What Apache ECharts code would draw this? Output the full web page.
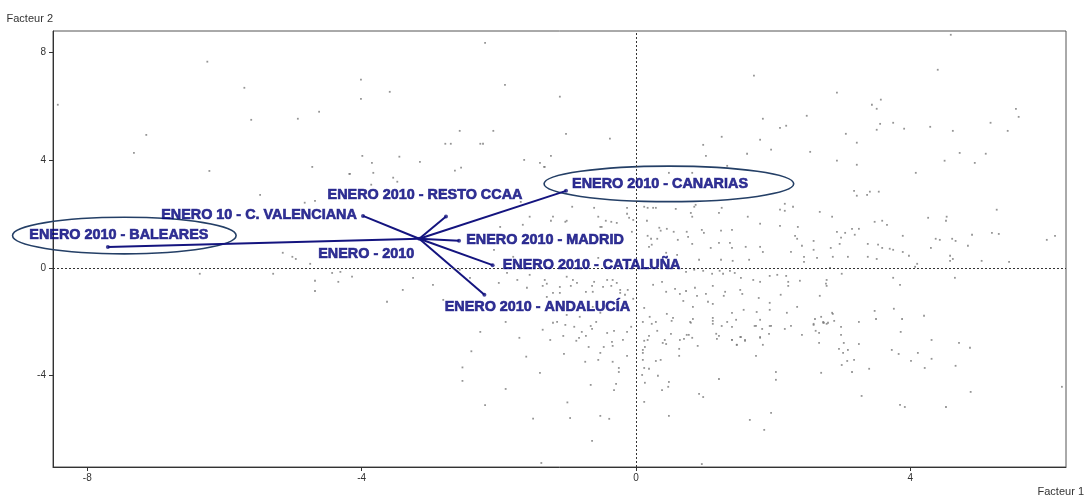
<!DOCTYPE html>
<html>
<head>
<meta charset="utf-8">
<script src="https://cdn.jsdelivr.net/npm/echarts@6/dist/echarts.min.js"></script>
<style>
  html, body { margin: 0; padding: 0; background: #fff; }
  #chart { width: 1084px; height: 495px; }
</style>
</head>
<body>
<div id="chart"></div>
<script>
// cloud of individuals on the factorial plane (Facteur 1, Facteur 2)
var individuals = [
  [-6.25,7.66],[-5.71,6.69],[-8.43,6.06],[-5.61,5.5],[-4.93,5.54],[-4.62,5.8],[-7.14,4.94],[-7.32,4.27],
  [-6.22,3.6],[-4.72,3.75],[-4.18,3.49],[-5.48,2.71],[-4.83,2.42],[-4.68,2.49],[-5.15,0.56],[-5.01,0.41],
  [-4.96,0.33],[-4.75,0.15],[-6.36,-0.22],[-5.29,-0.22],[-4.68,-0.48],[-4.68,-0.86],[-4.43,-0.19],[-4.31,-0.15],
  [-4.14,-0.33],[-4.34,-0.52],
  [-2.2,8.36],[-4.01,6.99],[-3.59,6.54],[-4.01,6.28],[-1.91,6.8],[-1.11,6.36],[-2.57,5.09],[-2.08,5.09],
  [-1.02,4.98],[-0.38,4.8],[-2.78,4.61],[-2.7,4.61],[-2.27,4.61],[-2.23,4.61],[-3.99,4.16],[-3.45,4.13],
  [-3.15,3.94],[-1.63,4.01],[-1.24,4.16],[-1.34,3.75],[-2.55,3.72],[-2.64,3.61],[-3.83,3.53],[-4.17,3.49],
  [-3.54,3.35],[-3.48,3.2],[-3.86,3.09],[1.25,4.87],[0.98,4.57],[1.02,4.16],[0.48,3.53],[0.82,3.53],[1.33,3.79],
  [4.59,8.66],[4.4,7.36],[1.72,7.14],[2.93,6.51],[3.57,6.25],[3.44,6.06],[3.51,5.91],[5.54,5.91],[5.58,5.61],
  [1.85,5.54],[2.49,5.65],[2.1,5.2],[2.19,5.28],[3.56,5.35],[3.75,5.39],[3.91,5.17],[4.29,5.24],[4.62,5.09],
  [5.17,5.39],[5.42,5.09],[3.51,5.13],[3.06,4.98],[3.22,4.65],[1.81,4.76],[1.97,4.39],[1.62,4.24],[2.54,4.31],
  [4.72,4.27],[5.1,4.24],
  [2.93,3.98],[3.22,3.83],[4.5,3.98],[4.94,3.9],[4.08,3.53],[3.18,2.86],[3.22,2.68],[3.37,2.71],[3.41,2.83],
  [3.54,2.83],[5.26,2.16],[2.68,2.08],[2.86,1.9],[4.26,1.86],[4.53,1.9],[4.52,1.75],[3.48,1.71],[3.59,1.75],
  [3.66,1.6],[3.15,1.45],[3.25,1.45],[2.93,1.34],[3.05,1.3],[3.19,1.23],[3.89,1.19],[2.99,1.12],[4.37,1.08],
  [4.43,1.04],[4.61,1.08],[4.66,1.0],[4.9,1.23],[5.19,1.3],[5.29,1.26],[5.99,1.04],[6.11,1.19],[2.59,1.0],
  [2.42,0.82],[2.59,0.67],[2.84,0.74],[2.97,0.89],[3.38,0.89],[3.53,0.86],[3.59,0.74],[3.7,0.71],[3.75,0.67],
  [3.89,0.59],[4.3,0.74],[4.84,0.82],[2.45,0.41],[2.64,0.37],[2.87,0.41],[3.09,0.41],[3.38,0.41],[3.51,0.33],
  [3.98,0.45],[4.58,0.45],[4.58,0.26],[4.62,0.33],[5.04,0.26],[5.44,0.22],[2.45,0.22],[4.1,0.15],[4.07,0.04],
  [2.83,0.0],[3.0,-0.22],[2.78,-0.45],[2.77,-0.59],[2.78,-0.67],[3.75,-0.37],[3.85,-0.63],[4.65,-0.37],
  [2.68,-1.04],[3.48,-1.6],[3.76,-1.52],[4.2,-1.78],[2.7,-1.82],[2.86,-1.67],[2.87,-1.71],[2.61,-1.9],
  [2.73,-2.01],[2.74,-2.04],[2.8,-2.04],[2.89,-1.97],[3.25,-2.01],[3.5,-1.9],[3.88,-1.9],[2.59,-2.08],
  [1.25,-2.16],[1.4,-2.19],[1.75,-2.16],[1.84,-2.27],[1.97,-2.16],[1.94,-2.45],[2.17,-2.27],[2.26,-2.16],
  [2.42,-2.49],[2.59,-2.12],[2.62,-2.34],[2.67,-2.42],[2.73,-2.04],[2.78,-2.08],[2.99,-2.19],[2.99,-2.49],
  [1.4,-2.68],[1.53,-2.57],[1.47,-2.86],[1.59,-2.71],[1.81,-2.6],[1.85,-2.86],[2.67,-2.79],[3.03,-2.79],
  [3.25,-2.83],[2.96,-3.01],[3.09,-3.05],[3.02,-3.16],[1.75,-3.27],[3.08,-3.46],[3.18,-3.42],[3.0,-3.61],
  [3.4,-3.75],[3.15,-3.87],[2.04,-3.87],[2.04,-4.16],[2.7,-3.9],[3.86,-2.38],[3.73,-3.05],[3.83,-3.2],
  [4.01,-3.46],[4.11,-3.16],[4.21,-3.72],[4.31,-2.68],[4.31,-3.38],[4.66,-3.64],[4.71,-2.79],[4.87,-2.97],
  [3.29,-4.76],[4.88,-4.61],[3.85,-5.09],[3.92,-5.17],[4.52,-5.17],[1.97,-5.39],[1.66,-5.65],[1.87,-6.02],
  [6.21,-4.42],
  [-1.03,-2.12],[-0.9,-2.19],[-0.66,-2.16],[-0.64,-2.27],[-0.58,-2.01],[-1.36,-2.3],[-1.25,-2.68],[-1.06,-2.53],
  [-0.87,-2.71],[-0.83,-2.6],[-0.79,-2.38],[-0.73,-2.53],[-0.69,-2.94],[-0.47,-2.94],[-0.42,-2.42],[-0.35,-2.75],
  [-0.34,-2.9],[-0.32,-2.34],[-0.19,-2.68],[-0.13,-2.38],[-0.07,-2.19],[-1.05,-3.2],[-0.52,-3.16],[-0.13,-3.27],
  [-0.74,-3.49],[-0.55,-3.42],[-0.34,-3.49],[-0.25,-3.72],[-0.25,-3.87],[-0.29,-4.31],[-0.66,-4.35],[-0.32,-4.54],
  [-0.96,-5.58],[-0.52,-5.5],[-0.39,-5.61],[-0.64,-6.43],[-1.38,-7.25],
  [0.1,-2.01],[0.29,-2.01],[0.23,-2.08],[0.52,-1.97],[0.79,-2.01],[0.8,-2.04],[1.12,-1.97],[1.12,-2.08],
  [1.33,-2.01],[1.73,-2.16],[1.95,-2.16],[0.12,-2.71],[0.13,-2.94],[0.19,-2.53],[0.17,-2.68],[0.31,-2.34],
  [0.39,-2.79],[0.44,-2.83],[0.42,-2.68],[0.51,-2.45],[0.64,-2.68],[0.7,-2.64],[0.74,-2.49],[0.77,-2.49],
  [0.82,-2.6],[0.63,-3.01],[0.9,-2.9],[1.17,-2.45],[1.18,-2.64],[1.21,-2.53],[1.4,-2.68],[1.47,-2.86],
  [1.52,-2.57],[1.59,-2.68],[1.81,-2.57],[0.1,-3.05],[0.1,-3.16],[0.1,-3.42],[0.29,-3.46],[0.36,-3.42],
  [0.63,-3.27],[0.12,-3.72],[0.19,-3.75],[0.09,-3.98],[0.32,-4.01],[0.13,-4.27],[0.48,-4.24],[0.47,-4.42],
  [0.38,-4.54],[1.21,-4.13],[0.92,-4.68],[0.98,-4.8],[0.12,-4.98],[0.48,-5.5],[0.96,-7.29],
  [-0.93,2.27],[-0.61,2.23],[-0.13,2.23],[-1.24,1.75],[-1.01,1.75],[-0.5,1.52],[-0.44,1.75],[-0.36,1.71],
  [-0.28,1.67],[-0.13,2.01],[-0.1,1.86],[-0.04,1.78],[-0.06,1.34],[-0.52,1.52],[0.12,2.27],[0.17,2.23],
  [0.25,2.23],[0.29,2.23],[0.58,2.19],[0.85,2.27],[0.87,2.34],[0.8,2.04],[0.82,1.9],[1.25,2.23],[1.21,2.04],
  [1.63,1.9],[2.1,2.16],[2.17,2.38],[2.17,2.12],[2.29,2.27],[1.81,1.64],[2.1,1.56],[2.36,1.52],[0.16,1.75],
  [0.34,1.49],[0.36,1.38],[0.45,1.45],[0.55,1.34],[0.74,1.34],[0.96,1.41],[0.99,1.3],[1.24,1.38],[1.4,1.41],
  [0.17,1.19],[0.22,1.08],[0.31,1.08],[0.23,0.86],[0.19,0.78],[0.61,1.04],[0.76,1.15],[0.82,0.89],[1.09,0.74],
  [1.21,0.93],[1.37,0.93],[1.4,0.74],[1.6,0.78],[1.81,0.78],[1.85,0.59],[2.32,1.19],[2.35,1.08],[2.26,0.59],
  [0.44,0.56],[0.6,0.48],[0.92,0.3],[1.24,0.3],[1.41,0.26],[1.65,0.3],[-0.55,0.37],[-0.55,1.9],
  [0.73,-0.15],[0.85,-0.07],[0.98,-0.11],[1.11,-0.22],[1.22,-0.11],[1.27,-0.22],[1.37,-0.11],[1.44,-0.19],
  [1.53,-0.37],[1.71,-0.45],[1.81,-0.52],[1.95,-0.3],[2.06,-0.26],[2.19,-0.3],[2.22,-0.52],[2.39,-0.48],
  [2.22,-0.67],[0.25,-0.63],[0.38,-0.52],[0.44,-0.89],[0.57,-0.78],[0.64,-0.97],[0.73,-0.86],[0.86,-0.74],
  [0.89,-1.04],[1.02,-0.97],[1.12,-0.67],[1.3,-0.89],[1.28,-1.04],[1.52,-0.82],[1.55,-0.97],[1.79,-1.12],
  [1.95,-1.3],[2.11,-1.0],[0.69,-1.23],[0.83,-1.45],[1.05,-1.26],[1.12,-1.34],[1.4,-1.67],[1.57,-1.56],
  [1.76,-1.64],[1.95,-1.56],[2.2,-1.67],[2.35,-1.45],[0.12,-1.49],[0.2,-1.82],[0.45,-1.71],[0.54,-1.86],
  [0.83,-1.9],[1.12,-1.86],[1.46,-1.93],[1.81,-1.93],
  [-1.36,-0.67],[-1.3,-0.59],[-1.21,-0.93],[-0.95,-0.67],[-0.92,-0.45],[-0.73,-0.89],[-0.64,-0.67],[-0.61,-0.52],
  [-0.42,-0.45],[-0.36,-0.67],[-0.28,-0.56],[-0.23,-0.93],[-0.16,-1.0],[-0.12,-0.82],[-0.04,-1.15],[-1.21,-2.04],
  [-1.15,-2.01],
  [-1.4,3.9],[-1.33,3.75],[-3.85,3.9],[-2.81,2.83],[-2.71,2.79],[-1.68,2.45],[-1.55,1.9],[-1.65,1.6],[-1.21,1.9],
  [-1.03,1.71],[-1.98,1.52],[-2.07,0.67],[-1.79,0.41],[-2.57,-0.07],[-2.42,-0.37],[-1.88,-0.19],[-1.73,-0.45],
  [-1.55,-0.26],[-1.33,-0.45],[-1.11,-0.71],[-1.01,-0.33],[-0.86,-0.56],[-1.59,-0.74],[-2.0,-0.56],[-1.3,-1.08],
  [-1.11,-0.93],[-0.63,-0.89],[-0.48,-0.71],[-0.34,-0.45],[-0.23,-0.82],[-0.63,-1.45],[-0.52,-1.67],[-0.82,-1.82],
  [-1.01,-1.75],[-3.25,-0.37],[-3.4,-0.82],[-3.63,-1.26],[-2.96,-0.63],[-2.81,-1.19],
  [-2.53,-3.7],[-2.53,-4.2],[-2.27,-2.38],[-1.9,-2.01],[-1.7,-2.6],[-1.6,-3.3],[-1.4,-3.9],[-1.9,-4.5],
  [-1.5,-5.6],[-2.4,-3.1],[-2.2,-5.1],[-1.0,-5.0]
];

// supplementary modalities: centre of gravity and projected categories
var centreName = 'ENERO - 2010';
var centreF1 = -3.16;
var centreF2 = 1.08;
var modalities = [
  'ENERO 2010 - BALEARES',
  'ENERO 10 - C. VALENCIANA',
  'ENERO 2010 - RESTO CCAA',
  'ENERO 2010 - CANARIAS',
  'ENERO 2010 - MADRID',
  'ENERO 2010 - CATALUÑA',
  'ENERO 2010 - ANDALUCÍA'
];
var modF1 = [-7.70, -3.98, -2.77, -1.02, -2.58, -2.09, -2.21];
var modF2 = [0.77, 1.93, 1.91, 2.86, 1.01, 0.10, -1.00];

// highlighted groups (centre f1, centre f2, half width, half height)
var highlights = [
  [-7.46, 1.20, 1.63, 0.68],
  [0.48, 3.12, 1.82, 0.66]
];

var xTicks = [-8, -4, 0, 4];
var yTicks = [-4, 0, 4, 8];

// label placement in pixels (style only)
var labelOffsets = [[11, -12], [-104, -1], [-21, -21], [94, -7], [86, -1], [99, 0], [53, 12]];
var centreOffset = [-53, 15];

var myChart = echarts.init(document.getElementById('chart'));

var labelStyle = {
  show: true,
  position: 'inside',
  align: 'center',
  verticalAlign: 'middle',
  fontFamily: 'Liberation Sans, Arial, sans-serif',
  fontWeight: 'bold',
  fontSize: 14.4,
  color: '#00007a',
  textBorderColor: '#1a1a88',
  textBorderWidth: 0.7
};

var modData = modalities.map(function (name, i) {
  return {
    name: name,
    value: [modF1[i], modF2[i]],
    label: Object.assign({}, labelStyle, { formatter: name, offset: labelOffsets[i] })
  };
});
modData.push({
  name: centreName,
  value: [centreF1, centreF2],
  label: Object.assign({}, labelStyle, { formatter: centreName, offset: centreOffset })
});

var vectorData = modalities.map(function (name, i) {
  return { coords: [[centreF1, centreF2], [modF1[i], modF2[i]]] };
});

var axisText = { fontFamily: 'Liberation Sans, Arial, sans-serif', fontSize: 10, color: '#333' };

var option = {
  animation: false,
  grid: {
    left: 53, right: 18, top: 31, bottom: 28,
    show: true, borderColor: '#555', borderWidth: 1,
    outerBoundsMode: 'none'
  },
  xAxis: {
    type: 'value',
    min: -8.5, max: 6.27,
    name: 'Facteur 1',
    nameLocation: 'end',
    nameGap: 18,
    nameTextStyle: {
      fontFamily: 'Liberation Sans, Arial, sans-serif', fontSize: 11, color: '#333',
      align: 'right', verticalAlign: 'top', padding: [19, 0, 0, 0]
    },
    axisLine: { onZero: false, lineStyle: { color: '#333', width: 1 } },
    axisTick: { show: true, length: 4, customValues: xTicks, lineStyle: { color: '#333' } },
    axisLabel: Object.assign({ margin: 6, customValues: xTicks }, axisText),
    splitLine: { show: false }
  },
  yAxis: {
    type: 'value',
    min: -7.4, max: 8.8,
    name: 'Facteur 2',
    nameLocation: 'end',
    nameGap: 12,
    nameTextStyle: {
      fontFamily: 'Liberation Sans, Arial, sans-serif', fontSize: 11, color: '#333',
      align: 'right', verticalAlign: 'middle', padding: [0, 0, 0, 0]
    },
    axisLine: { onZero: false, lineStyle: { color: '#333', width: 1 } },
    axisTick: { show: true, length: 4, customValues: yTicks, lineStyle: { color: '#333' } },
    axisLabel: Object.assign({ margin: 7, customValues: yTicks }, axisText),
    splitLine: { show: false }
  },
  series: [
    {
      type: 'scatter',
      data: individuals,
      symbol: 'rect',
      symbolSize: 1.8,
      itemStyle: { color: '#7a7a7a' },
      silent: true,
      z: 1,
      markLine: {
        silent: true,
        symbol: 'none',
        label: { show: false },
        lineStyle: { color: '#333', width: 1, type: [2, 2] },
        data: [{ xAxis: 0 }, { yAxis: 0 }]
      }
    },
    {
      type: 'custom',
      z: 3,
      silent: true,
      data: highlights,
      renderItem: function (params, api) {
        var c = api.coord([api.value(0), api.value(1)]);
        var s = api.size([api.value(2), api.value(3)]);
        return {
          type: 'ellipse',
          shape: { cx: c[0], cy: c[1], rx: s[0], ry: s[1] },
          style: { fill: 'none', stroke: '#243f66', lineWidth: 1.6 }
        };
      }
    },
    {
      type: 'lines',
      coordinateSystem: 'cartesian2d',
      z: 4,
      silent: true,
      lineStyle: { color: '#14147f', width: 2, opacity: 1 },
      data: vectorData
    },
    {
      type: 'scatter',
      z: 5,
      symbol: 'circle',
      symbolSize: 4,
      itemStyle: { color: '#14147f' },
      data: modData
    }
  ]
};

myChart.setOption(option);
window.addEventListener('resize', function () {
  myChart.resize();
});
</script>
</body>
</html>
